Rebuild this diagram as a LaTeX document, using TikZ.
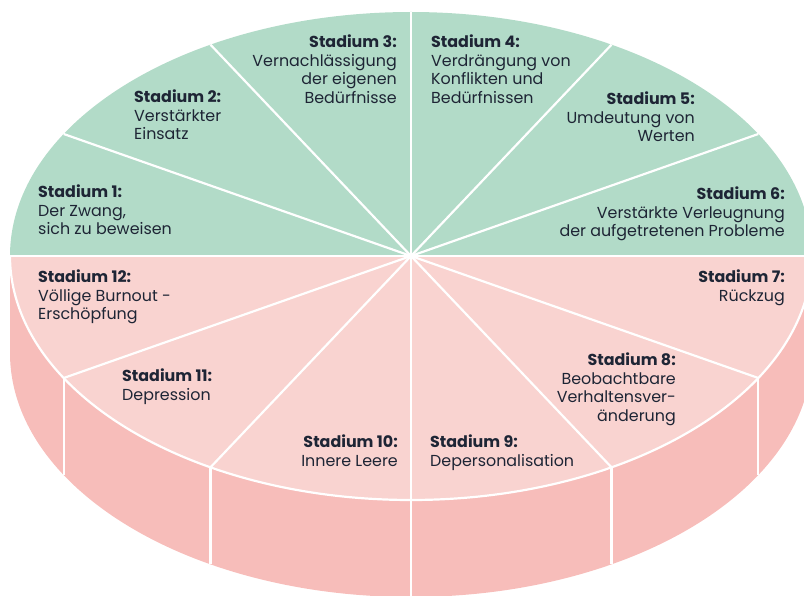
\documentclass[tikz,border=0pt]{standalone}
\usepackage{fontspec}
\usetikzlibrary{calc}
\setmainfont{Poppins}
\definecolor{topgreen}{HTML}{B2DBC8}
\definecolor{toppink}{HTML}{F9D3D0}
\definecolor{sidepink}{HTML}{F7BDBA}
\definecolor{txt}{HTML}{1E2535}
\tikzset{
  lbl/.style={inner sep=0pt, text=txt, font=\fontsize{15.9}{18.4}\selectfont},
  lblL/.style={lbl, anchor=north west, align=left},
  lblR/.style={lbl, anchor=north east, align=right},
  sep/.style={draw=white, line width=2.2pt},
}
\newcommand{\hd}[1]{\textbf{#1}}
\begin{document}
\begin{tikzpicture}[x=1pt,y=1pt]
\useasboundingbox (0,0) rectangle (804,-596);
\clip (0,0) rectangle (804,-596);
\coordinate (c) at (411,-256);
% side wall
\fill[sidepink] (10,-256) arc[start angle=180,end angle=360,x radius=401,y radius=244]
  -- ++(0,-97) arc[start angle=0,end angle=-180,x radius=401,y radius=244] -- cycle;
% top halves
\fill[topgreen] (10,-256) arc[start angle=180,end angle=0,x radius=401,y radius=244] -- cycle;
\fill[toppink] (10,-256) arc[start angle=180,end angle=360,x radius=401,y radius=244] -- cycle;
% front rim
\draw[sep] (10,-256) arc[start angle=180,end angle=360,x radius=401,y radius=244];
% side dividers
\foreach \a in {210,240,270,300,330}{
  \draw[sep] ($(c)+(\a:401 and 244)$) -- ++(0,-97);
}
% radial dividers
\foreach \a in {0,30,...,330}{
  \draw[sep] (c) -- ($(c)+(\a:401 and 244)$);
}
\draw[sep] (0,-256) -- (804,-256);
% labels
\node[lblL] (s1) at (38,-185) {\hd{Stadium 1:}\\Der Zwang,\\sich zu beweisen};
\node[lblL] (s2) at (134,-90) {\hd{Stadium 2:}\\Verstärkter\\Einsatz};
\node[lblR] (s3) at (397,-35) {\hd{Stadium 3:}\\Vernachlässigung\\der eigenen\\Bedürfnisse};
\node[lblL] (s4) at (431,-35) {\hd{Stadium 4:}\\Verdrängung von\\Konflikten und\\Bedürfnissen};
\node[lblR] (s5) at (695,-92) {\hd{Stadium 5:}\\Umdeutung von\\Werten};
\node[lblR] (s6) at (785,-187) {\hd{Stadium 6:}\\Verstärkte Verleugnung\\der aufgetretenen Probleme};
\node[lblR] (s7) at (785,-270) {\hd{Stadium 7:}\\Rückzug};
\node[lblR] (s8) at (676,-353) {\hd{Stadium 8:}\\Beobachtbare\\Verhaltensver-\\änderung};
\node[lblL] (s9) at (430,-435) {\hd{Stadium 9:}\\Depersonalisation};
\node[lblR] (s10) at (398,-435) {\hd{Stadium 10:}\\Innere Leere};
\node[lblL] (s11) at (122,-369) {\hd{Stadium 11:}\\Depression};
\node[lblL] (s12) at (38,-270) {\hd{Stadium 12:}\\Völlige Burnout -\\Erschöpfung};
\end{tikzpicture}
\end{document}
